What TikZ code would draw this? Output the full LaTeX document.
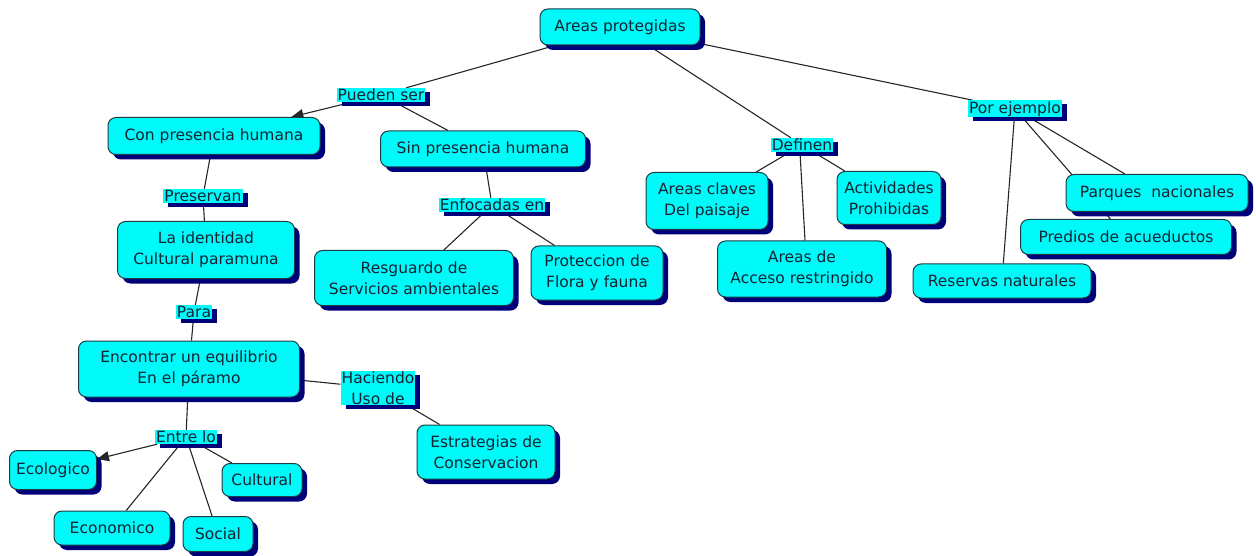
\documentclass[tikz,border=0pt]{standalone}
\usepackage{fontspec}
\setmainfont{DejaVu Sans}
\usetikzlibrary{shadows,arrows.meta,backgrounds}
\definecolor{boxfill}{RGB}{0,250,250}
\definecolor{boxline}{RGB}{30,60,70}
\definecolor{shade}{RGB}{0,0,120}
\definecolor{ink}{RGB}{20,35,50}
\begin{document}
\begin{tikzpicture}[x=1pt,y=-1pt,
  concept/.style={draw=boxline, line width=1pt, fill=boxfill, rounded corners=8pt,
    align=center, text=ink, inner sep=2pt,
    drop shadow={shadow xshift=5pt, shadow yshift=-5pt, fill=shade, opacity=1}},
  linkword/.style={fill=boxfill, align=center, text=ink, inner sep=1pt,
    drop shadow={shadow xshift=5pt, shadow yshift=-4pt, fill=shade, opacity=1}},
  link/.style={draw=black!85, line width=1.1pt},
  arrowlink/.style={link, -{Triangle[length=12pt,width=10pt]}}]
\useasboundingbox (0,0) rectangle (1256,556);
\fontsize{15.5}{21}\selectfont

% concepts
\node[concept, minimum width=160pt, minimum height=36pt] (top) at (620,27) {Areas protegidas};
\node[concept, minimum width=212pt, minimum height=37pt] (con) at (214,136) {Con presencia humana};
\node[concept, minimum width=205pt, minimum height=36pt] (sin) at (483,149) {Sin presencia humana};
\node[concept, minimum width=177pt, minimum height=57pt] (ident) at (206,250) {La identidad\\Cultural paramuna};
\node[concept, minimum width=199pt, minimum height=55pt] (resg) at (414,278) {Resguardo de\\Servicios ambientales};
\node[concept, minimum width=132pt, minimum height=54pt] (prot) at (597,273) {Proteccion de\\Flora y fauna};
\node[concept, minimum width=221pt, minimum height=56pt] (equi) at (189,369) {Encontrar un equilibrio\\En el páramo};
\node[concept, minimum width=138pt, minimum height=54pt] (estr) at (486,452) {Estrategias de\\Conservacion};
\node[concept, minimum width=87pt, minimum height=39pt] (ecol) at (53,470) {Ecologico};
\node[concept, minimum width=80pt, minimum height=33pt] (cult) at (262,480) {Cultural};
\node[concept, minimum width=116pt, minimum height=34pt] (econ) at (112,528) {Economico};
\node[concept, minimum width=70pt, minimum height=35pt] (soc) at (218,534) {Social};
\node[concept, minimum width=122pt, minimum height=57pt] (claves) at (707,201) {Areas claves\\Del paisaje};
\node[concept, minimum width=104pt, minimum height=53pt] (activ) at (889,198) {Actividades\\Prohibidas};
\node[concept, minimum width=169pt, minimum height=56pt] (acceso) at (802,269) {Areas de\\Acceso restringido};
\node[concept, minimum width=211pt, minimum height=35pt] (predios) at (1126,237) {Predios de acueductos};
\node[concept, minimum width=182pt, minimum height=37pt] (parques) at (1157,193) {Parques~~nacionales};
\node[concept, minimum width=178pt, minimum height=34pt] (reservas) at (1002,281) {Reservas naturales};

% linking phrases
\node[linkword] (pueden) at (381,95) {Pueden ser};
\node[linkword] (preserv) at (203,196) {Preservan};
\node[linkword] (enfoc) at (492,205) {Enfocadas en};
\node[linkword] (para) at (194,312) {Para};
\node[linkword] (hacien) at (378,388) {Haciendo\\Uso de};
\node[linkword] (entre) at (186,437) {Entre lo};
\node[linkword] (definen) at (802,145) {Definen};
\node[linkword] (ejemplo) at (1015,109) {Por ejemplo};

% connectors
\begin{scope}[on background layer]
\draw[link] (top) -- (pueden);
\draw[arrowlink] (pueden) -- (con);
\draw[link] (pueden) -- (sin);
\draw[link] (top) -- (definen);
\draw[link] (top) -- (ejemplo);
\draw[link] (definen) -- (claves);
\draw[link] ([xshift=-2pt]definen.south) -- ([xshift=3pt]acceso.north);
\draw[link] (definen) -- (activ);
\draw[link] (ejemplo) -- (reservas);
\draw[link] (ejemplo) -- (predios);
\draw[link] (ejemplo) -- (parques);
\draw[link] (sin) -- (enfoc);
\draw[link] (enfoc) -- (resg);
\draw[link] (enfoc) -- (prot);
\draw[link] (con) -- (preserv);
\draw[link] (preserv) -- (ident);
\draw[link] (ident) -- (para);
\draw[link] (para) -- (equi);
\draw[link] (equi) -- (hacien);
\draw[link] (hacien) -- (estr);
\draw[link] (equi) -- (entre);
\draw[arrowlink] (entre) -- (ecol);
\draw[link] (entre) -- (econ);
\draw[link] (entre) -- (soc);
\draw[link] (entre) -- (cult);
\end{scope}
\end{tikzpicture}
\end{document}
